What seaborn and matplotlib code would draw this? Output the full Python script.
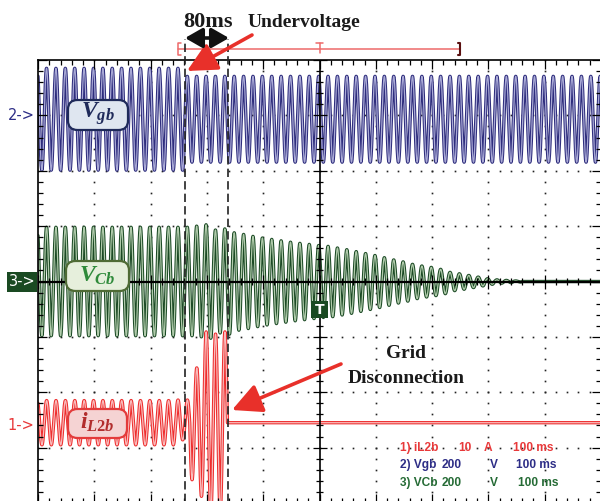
import numpy as np
import pandas as pd
import matplotlib
matplotlib.use("Agg")
import matplotlib.pyplot as plt
import seaborn as sns
from matplotlib.patches import FancyBboxPatch, FancyArrowPatch, Rectangle
from matplotlib.collections import LineCollection

# ---------------- data ----------------
freq_hz = 60.0                       # grid frequency
time_per_div_ms = 100.0
legend_names = ["1) iL2b", "2) Vgb", "3) VCb"]
legend_scales = ["10", "200", "200"]
legend_units = ["A", "V", "V"]
legend_time = ["100 ms", "100 ms", "100 ms"]

undervoltage_ms = -239.0             # start of undervoltage
disconnect_ms = -162.5               # grid disconnection

# Vgb (V per div = 200)
vgb_amp_before = 184.0
vgb_amp_after = 155.0

# VCb (V per div = 200): amplitude before, then one peak value per 60 Hz cycle
vcb_amp_before = 196.0
vcb_cycle_amps = [196, 200, 205, 186, 190, 176, 170, 163, 157, 152, 147, 142,
                  138, 134, 130, 127, 121, 115, 108, 101, 94, 86, 78, 71,
                  62, 56, 51, 44, 33, 28, 22, 16, 10, 6, 4, 2]

# iL2b (A per div = 10): steady amplitude, then half-cycle peaks of transient
il_amp_before = 4.0
il_start_ms = -255.5
il_half_amps = [4.1, 3.1, 4.1, 10.3, 9.9, 13.3, 16.4, 16.0, 16.0, 16.0, 16.4]

# ---------------- waveform construction ----------------
t = np.arange(-500.0, 500.0, 0.1)
per_ms = 1000.0 / freq_hz

vgb_amp = np.where(t < undervoltage_ms, vgb_amp_before, vgb_amp_after)
vgb = vgb_amp * np.sin(2 * np.pi * (t - undervoltage_ms) / per_ms)

k = np.floor((t - undervoltage_ms) / per_ms).astype(int)
amps = np.array(vcb_cycle_amps, dtype=float)
vcb_amp = np.where(k < 0, vcb_amp_before,
                   np.where(k < len(amps), amps[np.clip(k, 0, len(amps) - 1)], 0.0))
vcb = vcb_amp * np.sin(2 * np.pi * (t - undervoltage_ms) / per_ms)

h = np.floor((t - il_start_ms) / (per_ms / 2)).astype(int)
ha = np.array(il_half_amps, dtype=float)
il_amp = np.where(h < 0, il_amp_before,
                  np.where(h < len(ha), ha[np.clip(h, 0, len(ha) - 1)], 0.0))
il = il_amp * np.sin(2 * np.pi * (t - il_start_ms) / per_ms)

df = pd.DataFrame({
    "x": t / time_per_div_ms,
    "y2": 2.93 + vgb / 200.0,
    "y3": 0.0 + vcb / 200.0,
    "y1": -2.55 + il / 10.0,
})

# ---------------- figure ----------------
sns.set_style("white")
plt.rcParams["font.family"] = ["DejaVu Sans"]
plt.rcParams["mathtext.fontset"] = "custom"
plt.rcParams["mathtext.it"] = "Liberation Serif:italic:bold"
plt.rcParams["mathtext.rm"] = "Liberation Serif:bold"

W, H = 600, 501
fig = plt.figure(figsize=(6.0, 5.01), dpi=100)
fig.patch.set_facecolor("white")
ax = fig.add_axes([38 / W, -2 / H, 563 / W, 443 / H])
ax.set_xlim(-5, 5)
ax.set_ylim(-4, 4)
ax.set_xticks([])
ax.set_yticks([])
for s in ax.spines.values():
    s.set_color("black")
    s.set_linewidth(1.2)
ax.set_facecolor("white")

pxx = 1 / 56.3
pxy = 1 / 55.375

def fx(x):
    return x / W

def fy(y):
    return 1 - y / H

def dx(x):
    return (x - 319.5) * pxx

def dy(y):
    return (281.5 - y) * pxy

# dotted grid
dots = np.round(np.arange(-4, 4.001, 0.2), 6)
for gx in [-4, -3, -2, -1, 1, 2, 3, 4]:
    ax.plot([gx] * len(dots), dots, ls="none", marker="s", ms=1.2,
            color="#222222", mew=0, zorder=1)
dotsx = np.round(np.arange(-5, 5.001, 0.2), 6)
for gy in [-3, -2, -1, 1, 2, 3]:
    ax.plot(dotsx, [gy] * len(dotsx), ls="none", marker="s", ms=1.2,
            color="#222222", mew=0, zorder=1)

# waveforms
series = [("y2", "#2e2d7c", "#a9a9d6"),
          ("y3", "#1c4a25", "#b0cbab"),
          ("y1", "#ee2d2d", "#f9bcbc")]
for col, dark, light in series:
    sns.lineplot(data=df, x="x", y=col, ax=ax, color=dark, lw=2.4,
                 estimator=None, sort=False, zorder=2)
    sns.lineplot(data=df, x="x", y=col, ax=ax, color=light, lw=0.9,
                 estimator=None, sort=False, zorder=2)
ax.set_xlabel("")
ax.set_ylabel("")

# center lines and ticks
ax.axhline(0, color="black", lw=1.6, zorder=3)
ax.axvline(0, color="black", lw=1.2, zorder=3)
segs = []
for v in dotsx:
    major = abs(v - round(v)) < 1e-6
    L = (9 if major else 5) * pxy
    c = (7 if major else 3.5) * pxy
    segs += [[(v, 4), (v, 4 - L)], [(v, -4), (v, -4 + L)], [(v, -c), (v, c)]]
for v in dots:
    major = abs(v - round(v)) < 1e-6
    L = (9 if major else 5) * pxx
    c = (7 if major else 3.5) * pxx
    segs += [[(-5, v), (-5 + L, v)], [(5, v), (5 - L, v)], [(-c, v), (c, v)]]
ax.add_collection(LineCollection(segs, colors="black", linewidths=0.9, zorder=3))

# event dashed lines
for ev in [undervoltage_ms, disconnect_ms]:
    ln, = ax.plot([ev / time_per_div_ms] * 2, [-4.2, dy(39)], color="#222222",
                  lw=1.2, clip_on=False, zorder=4)
    ln.set_dashes([5, 2.5])

# memory window indicator
yw = dy(49)
wl, wr = dx(178), dx(460)
rc = "#ee6a6a"
ax.plot([wl, wr], [yw, yw], color=rc, lw=1.1, clip_on=False)
ax.plot([wl + 0.05, wl, wl, wl + 0.05], [yw + 0.1, yw + 0.1, yw - 0.1, yw - 0.1],
        color=rc, lw=1.1, clip_on=False)
ax.plot([wr - 0.04, wr, wr, wr - 0.04], [yw + 0.1, yw + 0.1, yw - 0.1, yw - 0.1],
        color="#5a1010", lw=1.5, clip_on=False)
ax.plot([0, 0], [yw - 0.07, yw + 0.11], color=rc, lw=1.1, clip_on=False)
ax.plot([-0.07, 0.07], [yw + 0.11, yw + 0.11], color=rc, lw=1.1, clip_on=False)

# trigger marker
ax.add_patch(Rectangle((dx(311), dy(318)), dx(328) - dx(311), dy(301) - dy(318),
                       facecolor="#1a4a22", edgecolor="none", zorder=5))
ax.text(0, (dy(318) + dy(301)) / 2, "T", color="white", ha="center",
        va="center", fontsize=10, fontweight="bold", zorder=6)

# channel markers
fig.text(fx(21), fy(115), "2->", color="#2d2d86", fontsize=10.5,
         ha="center", va="center")
fig.text(fx(21), fy(425), "1->", color="#e8393a", fontsize=10.5,
         ha="center", va="center")
ax.add_patch(Rectangle((dx(7), dy(292)), dx(37) - dx(7), dy(272) - dy(292),
                       facecolor="#1a4a22", edgecolor="none", zorder=5,
                       clip_on=False))
fig.text(fx(22), fy(282), "3->", color="white", fontsize=10.5,
         ha="center", va="center", zorder=6)

# label boxes
boxes = [((68, 100, 128, 130), "#dfe6f0", "#1f2a5a", "#1f2a5a", r"$V_{gb}$"),
         ((66, 261, 129, 291), "#e6efdc", "#4f6b35", "#2f8a3a", r"$V_{Cb}$"),
         ((68, 409, 127, 438), "#f5d3d3", "#e33b3b", "#b22d2d", r"$i_{L2b}$")]
for (x0, y0, x1, y1), fc, ec, tc, txt in boxes:
    ax.add_patch(FancyBboxPatch((dx(x0), dy(y1)), dx(x1) - dx(x0), dy(y0) - dy(y1),
                                boxstyle="round,pad=0,rounding_size=0.17",
                                facecolor=fc, edgecolor=ec, lw=1.6, zorder=5))
    ax.text((dx(x0) + dx(x1)) / 2, (dy(y0) + dy(y1)) / 2 + 0.02, txt, color=tc,
            ha="center", va="center", fontsize=17, zorder=6)

# annotations
serif = "Liberation Serif"
fig.text(fx(208), fy(27), "80ms", family=serif, fontweight="bold", fontsize=16,
         ha="center", va="baseline", color="#1a1a1a")
fig.text(fx(304), fy(27), "Undervoltage", family=serif, fontweight="bold",
         fontsize=14, ha="center", va="baseline", color="#1a1a1a")
fig.text(fx(406), fy(358), "Grid", family=serif, fontweight="bold",
         fontsize=14, ha="center", va="baseline", color="#1a1a1a")
fig.text(fx(406), fy(383), "Disconnection", family=serif, fontweight="bold",
         fontsize=14, ha="center", va="baseline", color="#1a1a1a")

arrow_red = "#e8302a"
for (xa, ya), (xb, yb) in [((252, 35), (187, 71)), ((341, 364), (232, 410))]:
    fig.add_artist(FancyArrowPatch((fx(xa), fy(ya)), (fx(xb), fy(yb)),
                                   transform=fig.transFigure,
                                   arrowstyle="-|>,head_length=0.9,head_width=0.45",
                                   mutation_scale=20, lw=2.6, color=arrow_red,
                                   shrinkA=0, shrinkB=0))
fig.add_artist(FancyArrowPatch((fx(185), fy(38)), (fx(229), fy(38)),
                               transform=fig.transFigure,
                               arrowstyle="<|-|>,head_length=0.7,head_width=0.4",
                               mutation_scale=15, lw=2.6, color="#111111",
                               shrinkA=0, shrinkB=0))

# legend text
leg_colors = ["#e8393a", "#2d2d86", "#256b35"]
rows_y = [451, 468, 486]
col_x = [[400, 458, 484, 513], [400, 442, 490, 516], [400, 442, 490, 518]]
for i in range(3):
    parts = [legend_names[i], legend_scales[i], legend_units[i], legend_time[i]]
    for p, xx in zip(parts, col_x[i]):
        fig.text(fx(xx), fy(rows_y[i]), p, color=leg_colors[i], fontsize=8.6,
                 family="Liberation Sans", fontweight="bold",
                 ha="left", va="baseline")

fig.savefig("out.png", dpi=100)
